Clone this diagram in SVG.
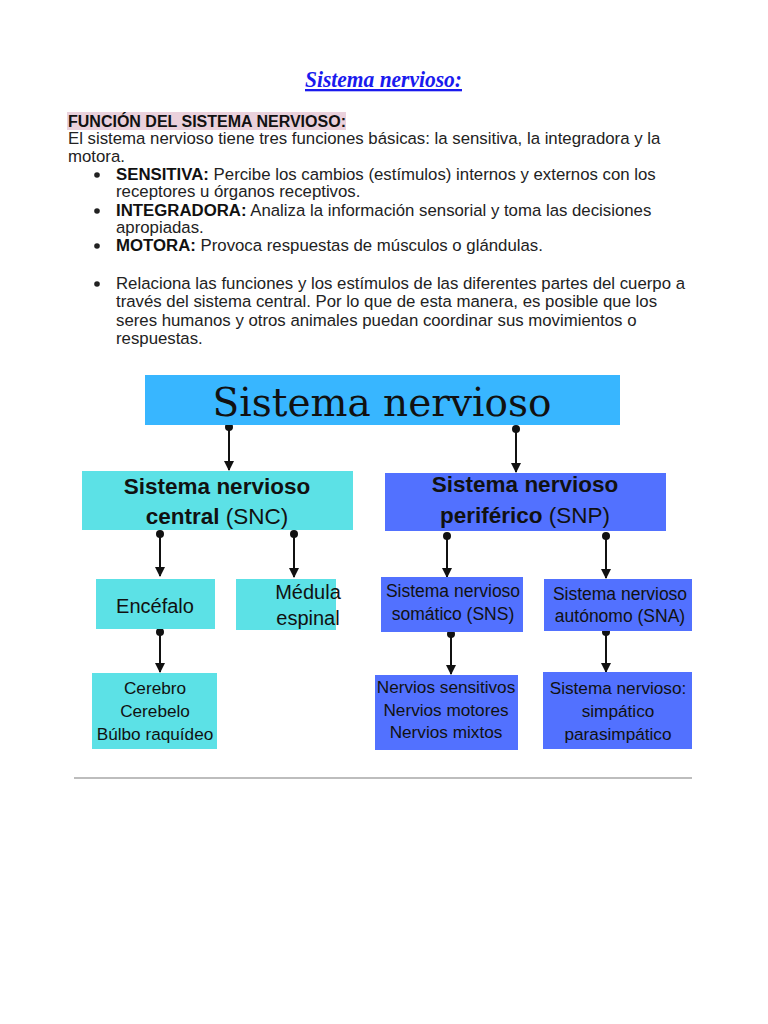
<svg xmlns="http://www.w3.org/2000/svg" width="768" height="1024" viewBox="0 0 768 1024">
<defs>
<style>
.t{font-family:"Liberation Sans",Arial,sans-serif;font-size:16.8px;fill:#222}
.b{font-weight:bold;fill:#111}
.cy{fill:#5ce1e6}
.bl{fill:#5271ff}
.n{font-family:"Liberation Sans",Arial,sans-serif;fill:#111;text-anchor:middle}
.c{stroke:#111;stroke-width:2;fill:none;marker-start:url(#dot);marker-end:url(#ah)}
</style>
<marker id="ah" viewBox="0 0 10 10" refX="9" refY="5" markerWidth="5" markerHeight="5" orient="auto" markerUnits="strokeWidth"><path d="M0,0 L10,5 L0,10 z" fill="#111"/></marker>
<marker id="dot" viewBox="0 0 10 10" refX="5" refY="5" markerWidth="4" markerHeight="4" markerUnits="strokeWidth"><circle cx="5" cy="5" r="5" fill="#111"/></marker>
</defs>
<rect width="768" height="1024" fill="#fff"/>
<g id="title">
<text x="305" y="87" textLength="157" lengthAdjust="spacingAndGlyphs" font-family="'Liberation Serif',serif" font-style="italic" font-weight="bold" font-size="23" fill="#1a1aee" text-decoration="underline">Sistema nervioso:</text>
</g>
<g id="text">
<rect x="67" y="112" width="279" height="18" fill="#ead1dc"/>
<text class="t" x="68" y="127" style="font-size:16px"><tspan class="b">FUNCIÓN DEL SISTEMA NERVIOSO:</tspan></text>
<text class="t" x="68" y="144">El sistema nervioso tiene tres funciones básicas: la sensitiva, la integradora y la</text>
<text class="t" x="68" y="162">motora.</text>
<g fill="#222"><circle cx="97" cy="175" r="2.8"/><circle cx="97" cy="211" r="2.8"/><circle cx="97" cy="246" r="2.8"/><circle cx="97" cy="284" r="2.8"/></g>
<text class="t" x="116" y="180"><tspan class="b">SENSITIVA:</tspan> Percibe los cambios (estímulos) internos y externos con los</text>
<text class="t" x="116" y="197">receptores u órganos receptivos.</text>
<text class="t" x="116" y="216"><tspan class="b">INTEGRADORA:</tspan> Analiza la información sensorial y toma las decisiones</text>
<text class="t" x="116" y="233">apropiadas.</text>
<text class="t" x="116" y="251"><tspan class="b">MOTORA:</tspan> Provoca respuestas de músculos o glándulas.</text>
<text class="t" x="116" y="289">Relaciona las funciones y los estímulos de las diferentes partes del cuerpo a</text>
<text class="t" x="116" y="307">través del sistema central. Por lo que de esta manera, es posible que los</text>
<text class="t" x="116" y="326">seres humanos y otros animales puedan coordinar sus movimientos o</text>
<text class="t" x="116" y="344">respuestas.</text>
</g>
<g id="connectors">
<path class="c" d="M229,427 V470"/>
<path class="c" d="M516,429 V472"/>
<path class="c" d="M160,534 V576"/>
<path class="c" d="M294,534 V577"/>
<path class="c" d="M447,536 V577"/>
<path class="c" d="M606,536 V578"/>
<path class="c" d="M160,632 V672"/>
<path class="c" d="M451,634 V674"/>
<path class="c" d="M606,632 V672"/>
</g>
<g id="n-root">
<rect x="145" y="375" width="475" height="50" fill="#38b6ff"/>
<text x="382" y="416" text-anchor="middle" font-family="'DejaVu Serif','Liberation Serif',serif" font-size="39" fill="#111">Sistema nervioso</text>
</g>
<g id="n-snc">
<rect class="cy" x="82" y="471" width="271" height="59"/>
<text class="n" x="217" y="494" font-size="22.5" font-weight="bold">Sistema nervioso</text>
<text class="n" x="217" y="524" font-size="22.5"><tspan font-weight="bold">central</tspan> (SNC)</text>
</g>
<g id="n-snp">
<rect class="bl" x="385" y="473" width="281" height="58"/>
<text class="n" x="525" y="492" font-size="22.5" font-weight="bold">Sistema nervioso</text>
<text class="n" x="525" y="523" font-size="22.5"><tspan font-weight="bold">periférico</tspan> (SNP)</text>
</g>
<g id="n-encefalo">
<rect class="cy" x="96" y="579" width="119" height="50"/>
<text class="n" x="155" y="613" font-size="20">Encéfalo</text>
</g>
<g id="n-medula">
<rect class="cy" x="236" y="579" width="100" height="51"/>
<text class="n" x="308" y="599" font-size="20">Médula</text>
<text class="n" x="308" y="625" font-size="20">espinal</text>
</g>
<g id="n-sns">
<rect class="bl" x="381" y="577" width="142" height="55"/>
<text class="n" x="453" y="597" font-size="17.5">Sistema nervioso</text>
<text class="n" x="453" y="620" font-size="17.5">somático (SNS)</text>
</g>
<g id="n-sna">
<rect class="bl" x="544" y="579" width="148" height="52"/>
<text class="n" x="620" y="600" font-size="17.5">Sistema nervioso</text>
<text class="n" x="620" y="622" font-size="17.5">autónomo (SNA)</text>
</g>
<g id="n-cerebro">
<rect class="cy" x="92" y="673" width="125" height="76"/>
<text class="n" x="155" y="694" font-size="17.2">Cerebro</text>
<text class="n" x="155" y="717" font-size="17.2">Cerebelo</text>
<text class="n" x="155" y="740" font-size="17.2">Búlbo raquídeo</text>
</g>
<g id="n-nervios">
<rect class="bl" x="375" y="675" width="143" height="75"/>
<text class="n" x="446" y="693" font-size="17.2">Nervios sensitivos</text>
<text class="n" x="446" y="716" font-size="17.2">Nervios motores</text>
<text class="n" x="446" y="738" font-size="17.2">Nervios mixtos</text>
</g>
<g id="n-simpatico">
<rect class="bl" x="543" y="672" width="149" height="77"/>
<text class="n" x="618" y="694" font-size="17.2">Sistema nervioso:</text>
<text class="n" x="618" y="717" font-size="17.2">simpático</text>
<text class="n" x="618" y="740" font-size="17.2">parasimpático</text>
</g>
<line x1="74" y1="778" x2="692" y2="778" stroke="#bdbdbd" stroke-width="2"/>
</svg>
